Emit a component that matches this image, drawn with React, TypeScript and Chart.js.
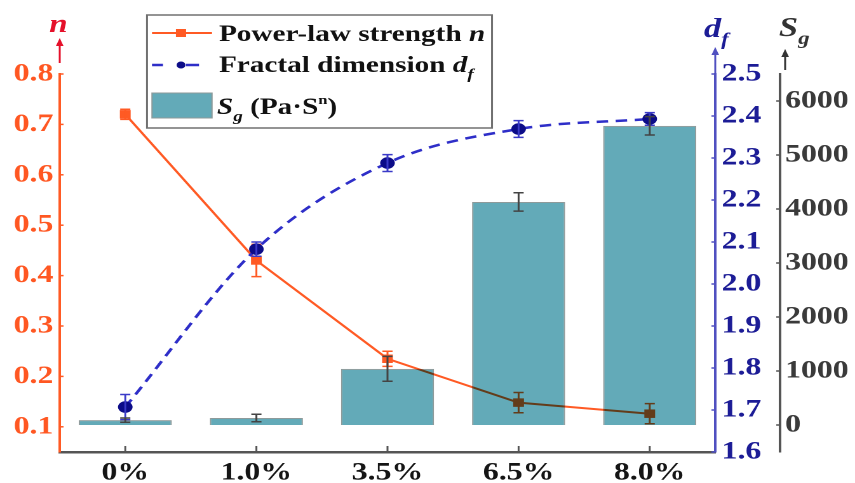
import { useEffect, useRef } from "react";
import { Chart, registerables } from "chart.js";

Chart.register(...registerables);

// ---------- data ----------
const categories = ["0%", "1.0%", "3.5%", "6.5%", "8.0%"];
const nValues = [0.72, 0.43, 0.235, 0.148, 0.126];
const nErrors = [0.01, 0.032, 0.015, 0.02, 0.02];
const dfValues = [1.707, 2.083, 2.288, 2.369, 2.393];
const dfErrors = [0.03, 0.017, 0.02, 0.02, 0.015];
const sgValues = [90, 130, 1040, 4130, 5540];
const sgErrors = [40, 70, 230, 170, 170];
const nTicks = [0.1, 0.2, 0.3, 0.4, 0.5, 0.6, 0.7, 0.8];
const dfTicks = [1.6, 1.7, 1.8, 1.9, 2.0, 2.1, 2.2, 2.3, 2.4, 2.5];
const sgTicks = [0, 1000, 2000, 3000, 4000, 5000, 6000];

// ---------- layout / style ----------
const W = 673;
const H = 483;
const SX = 855 / W;
const u = (x: number) => x / SX;
const SERIF = "'Liberation Serif', 'Times New Roman', serif";
const N_COLOR = "#FF5A24";
const N_TICK = "#FF5722";
const N_TITLE = "#E5102A";
const DF_LINE = "#2E2EC8";
const DF_POINT = "#0C0C88";
const DF_TICK = "#1C1C96";
const DF_AXIS = "#5050C0";
const SG_TICK = "#3a3a3a";
const SG_AXIS = "#555555";
const BAR = "#63AAB8";
const BAR_BORDER = "#8E9A9A";

const tickFont = { family: SERIF, size: 25, weight: "bold" as const };

const errorCfg: Record<number, { errors: number[]; color: string; axis: string }> = {
  0: { errors: nErrors, color: N_COLOR, axis: "yN" },
  1: { errors: dfErrors, color: "#3A3AC8", axis: "yD" },
  2: { errors: sgErrors, color: "#444444", axis: "yS" },
};

const errorBarPlugin = {
  id: "errorBars",
  beforeDatasetDraw(chart: any, args: any) {
    if (args.index === 2) {
      chart.ctx.save();
      chart.ctx.globalCompositeOperation = "multiply";
    }
  },
  afterDatasetDraw(chart: any, args: any) {
    const ctx = chart.ctx;
    if (args.index === 2) ctx.restore();
    const cfg = errorCfg[args.index];
    if (!cfg) return;
    const ds = chart.data.datasets[args.index];
    const scale = chart.scales[cfg.axis];
    ctx.save();
    ctx.strokeStyle = cfg.color;
    ctx.lineWidth = 1.5;
    args.meta.data.forEach((el: any, i: number) => {
      const v = ds.data[i] as number;
      const e = cfg.errors[i];
      const x = el.x;
      const y1 = scale.getPixelForValue(v + e);
      const y2 = scale.getPixelForValue(v - e);
      ctx.beginPath();
      ctx.moveTo(x, y1);
      ctx.lineTo(x, y2);
      ctx.moveTo(x - 4, y1);
      ctx.lineTo(x + 4, y1);
      ctx.moveTo(x - 4, y2);
      ctx.lineTo(x + 4, y2);
      ctx.stroke();
    });
    ctx.restore();
  },
};

function drawRuns(
  ctx: CanvasRenderingContext2D,
  x: number,
  y: number,
  runs: { text: string; font: string; dy?: number }[]
) {
  for (const r of runs) {
    ctx.font = r.font;
    ctx.fillText(r.text, x, y + (r.dy || 0));
    x += ctx.measureText(r.text).width;
  }
  return x;
}

function arrow(ctx: CanvasRenderingContext2D, x: number, yTop: number, yBot: number, color: string) {
  ctx.save();
  ctx.strokeStyle = color;
  ctx.fillStyle = color;
  ctx.lineWidth = 1.5;
  ctx.beginPath();
  ctx.moveTo(x, yBot);
  ctx.lineTo(x, yTop + 6);
  ctx.stroke();
  ctx.beginPath();
  ctx.moveTo(x, yTop);
  ctx.lineTo(x - 3, yTop + 8);
  ctx.lineTo(x + 3, yTop + 8);
  ctx.closePath();
  ctx.fill();
  ctx.restore();
}

const decorPlugin = {
  id: "decor",
  afterDraw(chart: any) {
    const ctx: CanvasRenderingContext2D = chart.ctx;
    const { x, yN, yD, yS } = chart.scales;
    const area = chart.chartArea;
    ctx.save();
    // inward tick marks
    ctx.lineWidth = 1.5;
    ctx.strokeStyle = SG_AXIS;
    categories.forEach((_, i) => {
      const px = x.getPixelForValue(i);
      ctx.beginPath();
      ctx.moveTo(px, area.bottom);
      ctx.lineTo(px, area.bottom - 6);
      ctx.stroke();
    });
    ctx.strokeStyle = N_COLOR;
    nTicks.forEach((v) => {
      const py = yN.getPixelForValue(v);
      ctx.beginPath();
      ctx.moveTo(area.left, py);
      ctx.lineTo(area.left + 3, py);
      ctx.stroke();
    });
    ctx.strokeStyle = DF_AXIS;
    dfTicks.forEach((v) => {
      const py = yD.getPixelForValue(v);
      ctx.beginPath();
      ctx.moveTo(area.right, py);
      ctx.lineTo(area.right - 3, py);
      ctx.stroke();
    });
    ctx.strokeStyle = SG_AXIS;
    sgTicks.forEach((v) => {
      const py = yS.getPixelForValue(v);
      ctx.beginPath();
      ctx.moveTo(yS.left, py);
      ctx.lineTo(yS.left - 3, py);
      ctx.stroke();
    });

    // axis titles + arrows
    ctx.textBaseline = "alphabetic";
    ctx.textAlign = "center";
    ctx.fillStyle = N_TITLE;
    ctx.font = `italic bold 26px ${SERIF}`;
    ctx.fillText("n", area.left - 1, 32);
    arrow(ctx, area.left, 38, 63, N_TITLE);

    ctx.textAlign = "left";
    ctx.fillStyle = DF_TICK;
    drawRuns(ctx, u(704), 37, [
      { text: "d", font: `italic bold 27px ${SERIF}` },
      { text: "f", font: `italic bold 18px ${SERIF}`, dy: 8 },
    ]);
    arrow(ctx, area.right, 47, area.top, DF_AXIS);

    ctx.fillStyle = "#333333";
    drawRuns(ctx, u(779), 36, [
      { text: "S", font: `italic bold 27px ${SERIF}` },
      { text: "g", font: `italic bold 18px ${SERIF}`, dy: 8 },
    ]);
    arrow(ctx, yS.left + 4, 49, 70, "#333333");

    // legend
    const bx = u(147);
    const bw = u(492) - u(147);
    ctx.fillStyle = "#ffffff";
    ctx.fillRect(bx, 15, bw, 113);
    ctx.strokeStyle = "#707070";
    ctx.lineWidth = 1.5;
    ctx.strokeRect(bx, 15, bw, 113);

    const sx0 = u(152);
    const sx1 = u(212);
    const smid = u(181);
    // row 1
    ctx.strokeStyle = N_COLOR;
    ctx.lineWidth = 2;
    ctx.beginPath();
    ctx.moveTo(sx0, 33);
    ctx.lineTo(sx1, 33);
    ctx.stroke();
    ctx.fillStyle = N_COLOR;
    ctx.fillRect(smid - 4, 29, 8, 8);
    // row 2
    ctx.strokeStyle = DF_LINE;
    ctx.lineWidth = 2.5;
    ctx.beginPath();
    ctx.moveTo(sx0, 65);
    ctx.lineTo(u(163), 65);
    ctx.moveTo(u(186), 65);
    ctx.lineTo(u(199), 65);
    ctx.stroke();
    ctx.fillStyle = DF_POINT;
    ctx.beginPath();
    ctx.arc(smid, 65, 3.5, 0, Math.PI * 2);
    ctx.fill();
    // row 3
    ctx.fillStyle = BAR;
    ctx.fillRect(sx0, 93, sx1 - sx0, 25);
    ctx.strokeStyle = BAR_BORDER;
    ctx.lineWidth = 1;
    ctx.strokeRect(sx0, 93, sx1 - sx0, 25);

    ctx.fillStyle = "#111111";
    const tx = u(219);
    drawRuns(ctx, tx, 41, [
      { text: "Power-law strength ", font: `bold 23px ${SERIF}` },
      { text: "n", font: `italic bold 23px ${SERIF}` },
    ]);
    drawRuns(ctx, tx, 72, [
      { text: "Fractal dimension ", font: `bold 23px ${SERIF}` },
      { text: "d", font: `italic bold 23px ${SERIF}` },
      { text: "f", font: `italic bold 15px ${SERIF}`, dy: 7 },
    ]);
    drawRuns(ctx, u(217), 114, [
      { text: "S", font: `italic bold 23px ${SERIF}` },
      { text: "g", font: `italic bold 15px ${SERIF}`, dy: 7 },
      { text: " (Pa·S", font: `bold 23px ${SERIF}` },
      { text: "n", font: `bold 13px ${SERIF}`, dy: -10 },
      { text: ")", font: `bold 23px ${SERIF}` },
    ]);
    ctx.restore();
  },
};

export default function App() {
  const canvasRef = useRef<HTMLCanvasElement | null>(null);

  useEffect(() => {
    document.body.style.margin = "0";
    const canvas = canvasRef.current;
    if (!canvas) return;
    const chart = new Chart(canvas, {
      type: "bar",
      data: {
        labels: categories,
        datasets: [
          {
            type: "line",
            label: "Power-law strength n",
            data: nValues,
            yAxisID: "yN",
            borderColor: N_COLOR,
            backgroundColor: N_COLOR,
            borderWidth: 2,
            pointStyle: "rect",
            pointRadius: 6,
            pointBorderWidth: 0,
            tension: 0,
            order: 2,
          } as any,
          {
            type: "line",
            label: "Fractal dimension df",
            data: dfValues,
            yAxisID: "yD",
            borderColor: DF_LINE,
            borderDash: [9, 6],
            borderWidth: 2.5,
            pointBackgroundColor: DF_POINT,
            pointBorderColor: DF_POINT,
            pointRadius: 4.5,
            cubicInterpolationMode: "monotone",
            order: 1,
          } as any,
          {
            type: "bar",
            label: "Sg (Pa·S^n)",
            data: sgValues,
            yAxisID: "yS",
            backgroundColor: BAR,
            borderColor: BAR_BORDER,
            borderWidth: 1,
            barPercentage: 0.71,
            categoryPercentage: 1,
            order: 0,
          } as any,
        ],
      },
      options: {
        responsive: false,
        animation: false,
        devicePixelRatio: 2,
        layout: { padding: { top: 74, left: 0, right: 0, bottom: 0 } },
        plugins: { legend: { display: false }, tooltip: { enabled: false } },
        scales: {
          x: {
            grid: { display: false, drawTicks: false },
            border: { color: SG_AXIS, width: 2.5 },
            ticks: { color: "#151515", font: tickFont, padding: 6 },
            afterFit: (s: any) => {
              s.height = 31;
            },
          },
          yN: {
            position: "left",
            min: 0.05,
            max: 0.8,
            afterBuildTicks: (s: any) => {
              s.ticks = nTicks.map((v) => ({ value: v }));
            },
            grid: { display: false, drawTicks: false },
            border: { color: N_COLOR, width: 2 },
            ticks: {
              color: N_TICK,
              font: tickFont,
              padding: 5,
              callback: (v: any) => Number(v).toFixed(1),
            },
            afterFit: (s: any) => {
              s.width = 47;
            },
          },
          yD: {
            position: "right",
            weight: 0,
            min: 1.6,
            max: 2.5,
            afterBuildTicks: (s: any) => {
              s.ticks = dfTicks.map((v) => ({ value: v }));
            },
            grid: { display: false, drawTicks: false },
            border: { color: DF_AXIS, width: 2 },
            ticks: {
              color: DF_TICK,
              font: tickFont,
              padding: 5,
              callback: (v: any) => Number(v).toFixed(1),
            },
            afterFit: (s: any) => {
              s.width = 51;
            },
          },
          yS: {
            position: "right",
            weight: 1,
            min: -500,
            max: 6500,
            afterBuildTicks: (s: any) => {
              s.ticks = sgTicks.map((v) => ({ value: v }));
            },
            grid: { display: false, drawTicks: false },
            border: { color: SG_AXIS, width: 2 },
            ticks: {
              color: SG_TICK,
              font: tickFont,
              padding: 4,
              callback: (v: any) => String(v),
            },
            afterFit: (s: any) => {
              s.width = 59;
            },
          },
        },
      } as any,
      plugins: [errorBarPlugin, decorPlugin],
    });
    return () => chart.destroy();
  }, []);

  return (
    <div style={{ width: 855, height: 483, overflow: "hidden", position: "relative", background: "#fff" }}>
      <div
        style={{
          position: "absolute",
          left: 0,
          top: 0,
          width: W,
          height: H,
          transform: `scaleX(${SX})`,
          transformOrigin: "0 0",
        }}
      >
        <canvas ref={canvasRef} width={W} height={H} style={{ display: "block" }} />
      </div>
    </div>
  );
}
